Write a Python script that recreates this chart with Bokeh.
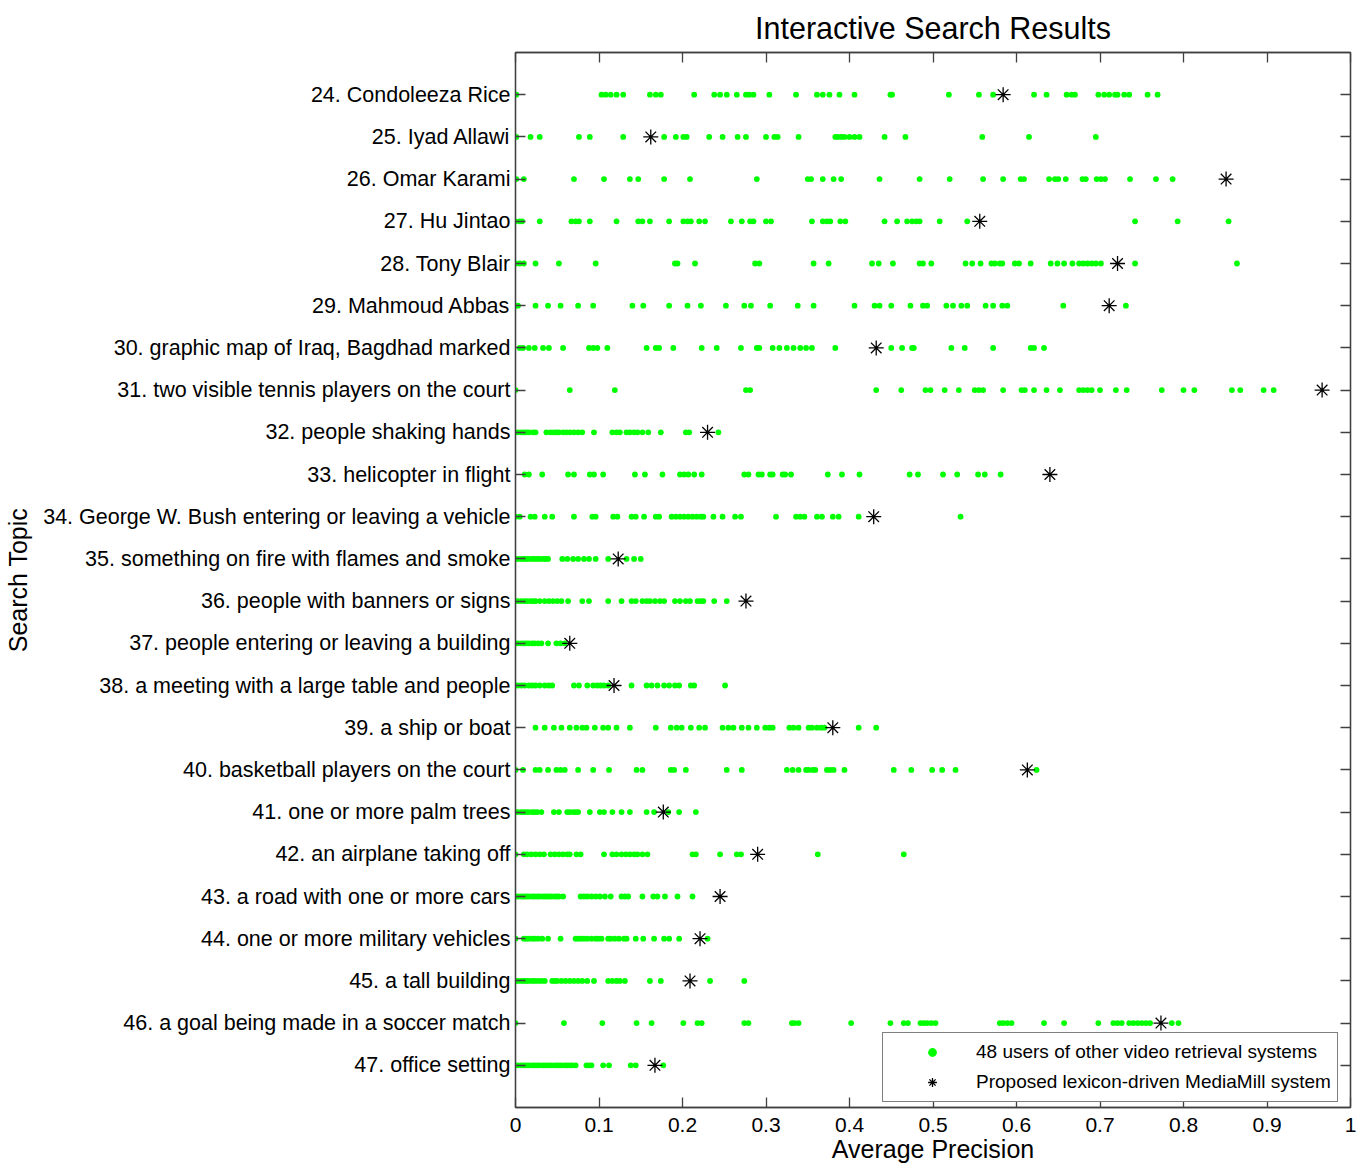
from bokeh.plotting import figure
from bokeh.models import (FactorRange, Range1d, FixedTicker, LinearAxis,
                          CategoricalAxis, Legend, LegendItem)
from bokeh.embed import file_html
from bokeh.resources import INLINE

FONT = "Liberation Sans"

topics = [
    "24. Condoleeza Rice",
    "25. Iyad Allawi",
    "26. Omar Karami",
    "27. Hu Jintao",
    "28. Tony Blair",
    "29. Mahmoud Abbas",
    "30. graphic map of Iraq, Bagdhad marked",
    "31. two visible tennis players on the court",
    "32. people shaking hands",
    "33. helicopter in flight",
    "34. George W. Bush entering or leaving a vehicle",
    "35. something on fire with flames and smoke",
    "36. people with banners or signs",
    "37. people entering or leaving a building",
    "38. a meeting with a large table and people",
    "39. a ship or boat",
    "40. basketball players on the court",
    "41. one or more palm trees",
    "42. an airplane taking off",
    "43. a road with one or more cars",
    "44. one or more military vehicles",
    "45. a tall building",
    "46. a goal being made in a soccer match",
    "47. office setting",
]

users_24 = [0.001, 0.103, 0.108, 0.114, 0.121, 0.129, 0.161, 0.168, 0.174, 0.214, 0.238, 0.245,
            0.253, 0.265, 0.276, 0.280, 0.285, 0.304, 0.336, 0.361, 0.368, 0.376, 0.388, 0.406,
            0.449, 0.451, 0.519, 0.555, 0.572, 0.621, 0.636, 0.660, 0.666, 0.670, 0.698, 0.705,
            0.711, 0.718, 0.721, 0.729, 0.735, 0.757, 0.769]
users_25 = [0.001, 0.018, 0.029, 0.076, 0.089, 0.129, 0.178, 0.192, 0.201, 0.205, 0.232, 0.248,
            0.266, 0.276, 0.300, 0.310, 0.314, 0.339, 0.383, 0.386, 0.390, 0.394, 0.400, 0.406,
            0.412, 0.442, 0.467, 0.559, 0.615, 0.695]
users_26 = [0.001, 0.010, 0.070, 0.106, 0.137, 0.147, 0.178, 0.209, 0.289, 0.350, 0.354, 0.368,
            0.381, 0.390, 0.436, 0.484, 0.520, 0.560, 0.584, 0.605, 0.609, 0.639, 0.646, 0.650,
            0.659, 0.679, 0.683, 0.696, 0.701, 0.706, 0.736, 0.767, 0.787]
users_27 = [0.000, 0.005, 0.008, 0.029, 0.067, 0.072, 0.076, 0.089, 0.121, 0.147, 0.152, 0.161,
            0.184, 0.201, 0.206, 0.210, 0.220, 0.227, 0.258, 0.271, 0.281, 0.285, 0.300, 0.306,
            0.355, 0.368, 0.373, 0.377, 0.389, 0.395, 0.442, 0.457, 0.469, 0.475, 0.480, 0.484,
            0.508, 0.541, 0.742, 0.793, 0.854]
users_28 = [0.000, 0.005, 0.010, 0.024, 0.052, 0.096, 0.191, 0.194, 0.215, 0.287, 0.292, 0.357,
            0.375, 0.427, 0.435, 0.452, 0.484, 0.488, 0.498, 0.539, 0.547, 0.557, 0.570, 0.574,
            0.580, 0.583, 0.598, 0.603, 0.617, 0.641, 0.649, 0.657, 0.667, 0.675, 0.680, 0.685,
            0.690, 0.695, 0.701, 0.742, 0.864]
users_29 = [0.000, 0.003, 0.024, 0.039, 0.054, 0.075, 0.093, 0.140, 0.153, 0.184, 0.206, 0.222,
            0.252, 0.274, 0.282, 0.305, 0.338, 0.357, 0.406, 0.430, 0.436, 0.450, 0.473, 0.488,
            0.493, 0.516, 0.524, 0.534, 0.541, 0.563, 0.572, 0.583, 0.589, 0.656, 0.731]
users_30 = [0.005, 0.009, 0.016, 0.023, 0.033, 0.040, 0.057, 0.088, 0.093, 0.098, 0.110, 0.157,
            0.168, 0.172, 0.189, 0.223, 0.241, 0.270, 0.289, 0.292, 0.308, 0.316, 0.325, 0.333,
            0.341, 0.348, 0.355, 0.383, 0.450, 0.463, 0.475, 0.477, 0.522, 0.538, 0.572, 0.617,
            0.621, 0.633]
users_31 = [0.000, 0.065, 0.119, 0.276, 0.281, 0.432, 0.462, 0.491, 0.497, 0.514, 0.531, 0.550,
            0.555, 0.560, 0.584, 0.606, 0.610, 0.621, 0.636, 0.652, 0.675, 0.680, 0.685, 0.690,
            0.700, 0.719, 0.732, 0.774, 0.800, 0.813, 0.858, 0.868, 0.896, 0.908]
users_32 = [0.000, 0.003, 0.007, 0.010, 0.013, 0.016, 0.021, 0.024, 0.037, 0.042, 0.046, 0.049,
            0.052, 0.057, 0.061, 0.065, 0.070, 0.075, 0.080, 0.094, 0.116, 0.121, 0.125, 0.133,
            0.137, 0.142, 0.146, 0.152, 0.159, 0.174, 0.204, 0.208, 0.243]
users_33 = [0.011, 0.016, 0.032, 0.063, 0.070, 0.089, 0.094, 0.105, 0.143, 0.155, 0.176, 0.197,
            0.202, 0.207, 0.214, 0.223, 0.274, 0.279, 0.291, 0.295, 0.305, 0.308, 0.320, 0.323,
            0.330, 0.374, 0.391, 0.412, 0.472, 0.482, 0.512, 0.529, 0.554, 0.562, 0.581]
users_34 = [0.000, 0.005, 0.018, 0.023, 0.035, 0.044, 0.070, 0.092, 0.096, 0.117, 0.122, 0.139,
            0.144, 0.154, 0.168, 0.172, 0.187, 0.192, 0.197, 0.202, 0.207, 0.212, 0.217, 0.222,
            0.225, 0.237, 0.248, 0.263, 0.270, 0.312, 0.336, 0.341, 0.346, 0.361, 0.367, 0.380,
            0.387, 0.411, 0.533]
users_35 = [0.000, 0.003, 0.007, 0.010, 0.013, 0.016, 0.020, 0.023, 0.026, 0.029, 0.033, 0.036,
            0.039, 0.056, 0.062, 0.069, 0.075, 0.082, 0.088, 0.096, 0.111, 0.133, 0.142, 0.150]
users_36 = [0.000, 0.003, 0.007, 0.011, 0.014, 0.018, 0.021, 0.024, 0.029, 0.035, 0.040, 0.045,
            0.050, 0.055, 0.063, 0.080, 0.088, 0.111, 0.127, 0.139, 0.144, 0.152, 0.157, 0.161,
            0.167, 0.173, 0.178, 0.191, 0.197, 0.204, 0.209, 0.218, 0.222, 0.225, 0.238, 0.253]
users_37 = [0.000, 0.003, 0.007, 0.010, 0.013, 0.016, 0.020, 0.023, 0.027, 0.031, 0.039, 0.049,
            0.054, 0.059]
users_38 = [0.000, 0.003, 0.007, 0.011, 0.016, 0.020, 0.024, 0.029, 0.035, 0.040, 0.044, 0.070,
            0.076, 0.086, 0.093, 0.098, 0.102, 0.106, 0.111, 0.139, 0.157, 0.163, 0.170, 0.178,
            0.184, 0.191, 0.196, 0.210, 0.214, 0.251]
users_39 = [0.024, 0.035, 0.046, 0.055, 0.065, 0.073, 0.080, 0.085, 0.095, 0.105, 0.111, 0.121,
            0.137, 0.168, 0.186, 0.193, 0.199, 0.210, 0.220, 0.227, 0.248, 0.255, 0.261, 0.271,
            0.279, 0.289, 0.299, 0.304, 0.308, 0.328, 0.333, 0.339, 0.351, 0.355, 0.361, 0.366,
            0.370, 0.411, 0.432]
users_40 = [0.000, 0.009, 0.024, 0.029, 0.039, 0.049, 0.054, 0.059, 0.075, 0.093, 0.112, 0.145,
            0.152, 0.186, 0.190, 0.204, 0.253, 0.271, 0.325, 0.332, 0.339, 0.348, 0.351, 0.356,
            0.359, 0.373, 0.377, 0.381, 0.394, 0.453, 0.474, 0.499, 0.511, 0.527, 0.624]
users_41 = [0.000, 0.003, 0.007, 0.010, 0.013, 0.016, 0.020, 0.023, 0.026, 0.031, 0.046, 0.052,
            0.062, 0.065, 0.069, 0.072, 0.075, 0.089, 0.101, 0.106, 0.116, 0.127, 0.137, 0.157,
            0.166, 0.183, 0.196, 0.216]
users_42 = [0.000, 0.010, 0.014, 0.019, 0.024, 0.029, 0.034, 0.042, 0.047, 0.052, 0.057, 0.062,
            0.065, 0.073, 0.078, 0.106, 0.116, 0.121, 0.127, 0.132, 0.137, 0.142, 0.146, 0.152,
            0.158, 0.212, 0.216, 0.245, 0.265, 0.270, 0.362, 0.465]
users_43 = [0.000, 0.003, 0.007, 0.010, 0.013, 0.016, 0.020, 0.023, 0.026, 0.029, 0.033, 0.036,
            0.039, 0.042, 0.046, 0.049, 0.052, 0.057, 0.078, 0.082, 0.086, 0.091, 0.096, 0.101,
            0.107, 0.114, 0.127, 0.131, 0.135, 0.152, 0.165, 0.170, 0.179, 0.194, 0.212]
users_44 = [0.000, 0.010, 0.013, 0.016, 0.020, 0.023, 0.027, 0.032, 0.039, 0.054, 0.072, 0.075,
            0.078, 0.082, 0.086, 0.091, 0.096, 0.099, 0.103, 0.111, 0.114, 0.119, 0.124, 0.130,
            0.133, 0.144, 0.153, 0.166, 0.178, 0.184, 0.196, 0.230]
users_45 = [0.000, 0.003, 0.007, 0.010, 0.013, 0.016, 0.020, 0.023, 0.027, 0.031, 0.035, 0.044,
            0.047, 0.050, 0.055, 0.060, 0.065, 0.070, 0.075, 0.080, 0.086, 0.094, 0.111, 0.116,
            0.121, 0.125, 0.131, 0.161, 0.174, 0.233, 0.274]
users_46 = [0.000, 0.058, 0.104, 0.145, 0.163, 0.201, 0.218, 0.223, 0.274, 0.279, 0.331, 0.334,
            0.339, 0.402, 0.449, 0.465, 0.470, 0.485, 0.489, 0.493, 0.498, 0.503, 0.580, 0.584,
            0.589, 0.594, 0.633, 0.657, 0.698, 0.716, 0.721, 0.726, 0.735, 0.740, 0.745, 0.750,
            0.755, 0.760, 0.786, 0.794]
users_47 = [0.000, 0.003, 0.007, 0.010, 0.013, 0.016, 0.020, 0.023, 0.026, 0.029, 0.033, 0.036,
            0.039, 0.042, 0.046, 0.049, 0.052, 0.055, 0.059, 0.062, 0.065, 0.068, 0.072, 0.085,
            0.088, 0.091, 0.105, 0.112, 0.138, 0.144, 0.177]

mediamill = [0.584, 0.162, 0.851, 0.556, 0.721, 0.711, 0.432, 0.966, 0.230, 0.640, 0.429, 0.123,
             0.276, 0.065, 0.118, 0.380, 0.613, 0.177, 0.290, 0.245, 0.221, 0.209, 0.773, 0.167]

x_ticks = [0, 0.1, 0.2, 0.3, 0.4, 0.5, 0.6, 0.7, 0.8, 0.9, 1]

users = [users_24, users_25, users_26, users_27, users_28, users_29, users_30, users_31,
         users_32, users_33, users_34, users_35, users_36, users_37, users_38, users_39,
         users_40, users_41, users_42, users_43, users_44, users_45, users_46, users_47]

ux, uy = [], []
for t, vals in zip(topics, users):
    ux.extend(vals)
    uy.extend([t] * len(vals))

p = figure(width=1366, height=1169,
           x_range=Range1d(0, 1),
           y_range=FactorRange(factors=topics[::-1], range_padding=0.5,
                               range_padding_units="absolute"),
           output_backend="svg", toolbar_location=None,
           min_border_left=515, min_border_right=16,
           min_border_top=51, min_border_bottom=62,
           title="Interactive Search Results")

p.title.text_font = FONT
p.title.text_font_size = "30.5px"
p.title.text_font_style = "normal"
p.title.text_color = "black"
p.title.align = "center"
p.title.standoff = 16

p.xgrid.visible = False
p.ygrid.visible = False
p.outline_line_color = "#404040"
p.outline_line_width = 1.3
p.background_fill_color = "white"

AX = "#404040"

xa = p.xaxis[0]
xa.ticker = FixedTicker(ticks=x_ticks)
xa.major_label_overrides = {0: "0", 1: "1"}
xa.axis_label = "Average Precision"
xa.axis_label_text_font = FONT
xa.axis_label_text_font_size = "25px"
xa.axis_label_text_font_style = "normal"
xa.axis_label_text_color = "black"
xa.axis_label_standoff = 0
xa.major_label_text_font = FONT
xa.major_label_text_font_size = "21px"
xa.major_label_text_color = "black"
xa.major_label_standoff = 10
xa.major_tick_in = 10
xa.major_tick_out = 0
xa.minor_tick_in = 0
xa.minor_tick_out = 0
xa.axis_line_color = AX
xa.axis_line_width = 1.3
xa.major_tick_line_color = AX
xa.major_tick_line_width = 1.3

ya = p.yaxis[0]
ya.axis_label = "Search Topic"
ya.axis_label_text_font = FONT
ya.axis_label_text_font_size = "25px"
ya.axis_label_text_font_style = "normal"
ya.axis_label_text_color = "black"
ya.axis_label_standoff = 8
ya.major_label_text_font = FONT
ya.major_label_text_font_size = "21.5px"
ya.major_label_text_color = "black"
ya.major_label_standoff = 5
ya.major_tick_in = 10
ya.major_tick_out = 0
ya.axis_line_color = AX
ya.axis_line_width = 1.3
ya.major_tick_line_color = AX
ya.major_tick_line_width = 1.3

top_ax = LinearAxis(ticker=FixedTicker(ticks=x_ticks),
                    major_tick_in=10, major_tick_out=0,
                    minor_tick_in=0, minor_tick_out=0,
                    major_label_text_font_size="0px", major_label_standoff=0,
                    major_label_text_color=None,
                    axis_line_color=AX, axis_line_width=1.3,
                    major_tick_line_color=AX, major_tick_line_width=1.3)
p.add_layout(top_ax, "above")

right_ax = CategoricalAxis(major_tick_in=10, major_tick_out=0,
                           major_label_text_font_size="0px", major_label_standoff=0,
                           major_label_text_color=None,
                           axis_line_color=AX, axis_line_width=1.3,
                           major_tick_line_color=AX, major_tick_line_width=1.3)
p.add_layout(right_ax, "right")

r_users = p.scatter(x=ux, y=uy, marker="circle", size=5.8,
                    fill_color="#00ff00", line_color=None)
r_mm = p.scatter(x=mediamill, y=topics, marker="asterisk", size=15,
                 line_color="black", line_width=1.3)

legend = Legend(items=[
    LegendItem(label="48 users of other video retrieval systems", renderers=[r_users]),
    LegendItem(label="Proposed lexicon-driven MediaMill system", renderers=[r_mm]),
], location=(367, 5))
legend.margin = 0
legend.padding = 6
legend.spacing = 4
legend.glyph_width = 86
legend.glyph_height = 22
legend.label_height = 26
legend.label_standoff = 1
legend.label_text_font = FONT
legend.label_text_font_size = "19px"
legend.label_text_color = "black"
legend.border_line_color = "black"
legend.border_line_width = 1
legend.background_fill_color = "white"
legend.background_fill_alpha = 1.0
p.add_layout(legend)

open("out.html", "w").write(file_html(p, INLINE))
